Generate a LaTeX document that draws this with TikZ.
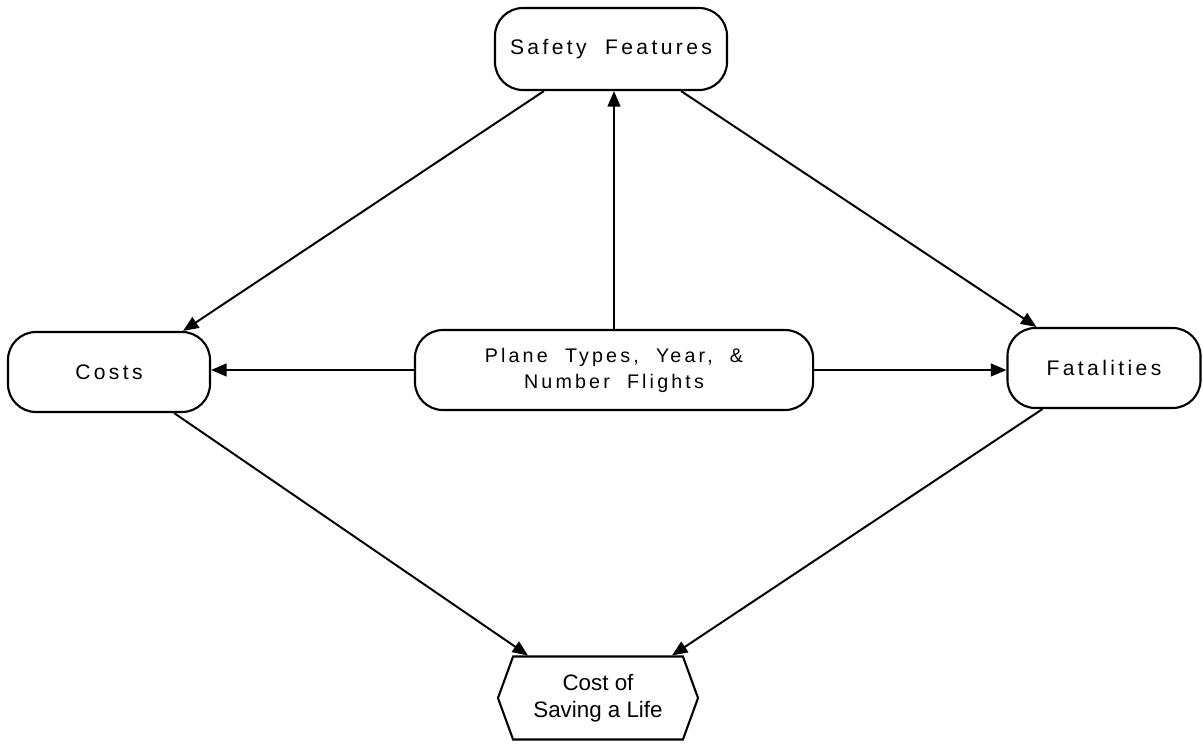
\documentclass[tikz,border=0pt]{standalone}
\usepackage{fontspec}
\newfontfamily\spacedfont[LetterSpace=16,WordSpace=2]{Liberation Sans}
\newfontfamily\plainfont{Liberation Sans}
\usetikzlibrary{arrows.meta,shapes.symbols}

\begin{document}
\begin{tikzpicture}[x=0.025cm,y=-0.025cm,
    box/.style={draw=black, line width=1.5pt, rounded corners=0.7cm, align=center, inner sep=0pt},
    link/.style={line width=1.4pt, -{Triangle[length=11pt,width=9pt]}}]
      \useasboundingbox (0,0) rectangle (1203,743);
      \node[box, minimum width=5.8cm, minimum height=2.05cm, font=\spacedfont\fontsize{15}{18}\selectfont] (safety) at (611,49) {Safety Features};
      \node[box, minimum width=5.05cm, minimum height=2cm, font=\spacedfont\fontsize{15}{18}\selectfont] (costs) at (109,372) {Costs};
      \node[box, minimum width=9.95cm, minimum height=2cm, font=\spacedfont\fontsize{14}{18.5}\selectfont] (plane) at (614,370) {Plane Types, Year, \&\\Number Flights};
      \node[box, minimum width=4.825cm, minimum height=2cm, font=\spacedfont\fontsize{15}{18}\selectfont] (fatal) at (1104,368) {Fatalities};
      \node[draw=black, line width=1.5pt, shape=signal, signal to=west and east, signal pointer angle=140, minimum width=5cm, minimum height=2.075cm, inner sep=0pt, align=center, font=\plainfont\fontsize{15.9}{19.2}\selectfont] (life) at (598,698) {Cost of\\Saving a Life};
      \draw[link] ([xshift=1.25cm]safety.south west) -- ([xshift=-0.7cm]costs.north east);
      \draw[link] ([xshift=-1.175cm]safety.south east) -- ([xshift=0.75cm]fatal.north west);
      \draw[link] (plane.north) -- (plane.north |- safety.south);
      \draw[link] (plane.west) -- (plane.west -| costs.east);
      \draw[link] (plane.east) -- (plane.east -| fatal.west);
      \draw[link] ([xshift=-0.925cm]costs.south east) -- ([xshift=-1.75cm]life.north);
      \draw[link] ([xshift=0.9cm]fatal.south west) -- ([xshift=1.85cm]life.north);
\end{tikzpicture}
\end{document}
